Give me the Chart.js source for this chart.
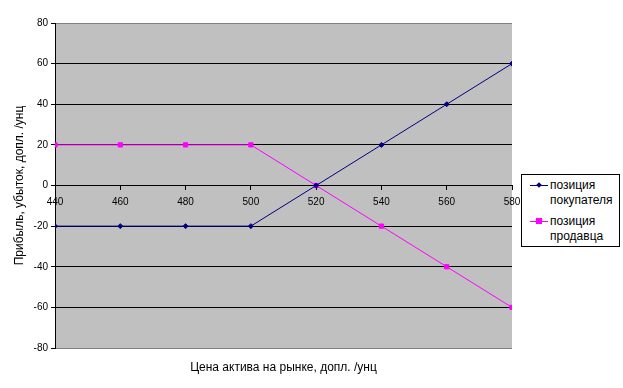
<!DOCTYPE html>
<html>
<head>
<meta charset="utf-8">
<script src="https://cdn.jsdelivr.net/npm/chart.js@4/dist/chart.umd.min.js"></script>
<style>
  body { margin: 0; background: #fff; font-family: "Liberation Sans", Arial, sans-serif; }
  #wrap { position: relative; width: 623px; height: 388px; }
  #legenda { position: absolute; left: 521px; top: 174px; width: 97px; height: 71px;
    border: 1px solid #000; background: #fff; font-size: 12px; color: #000; }
  .item { position: absolute; left: 8px; }
  .amostra { position: absolute; left: 0; width: 18px; height: 1px; }
  .marca { position: absolute; }
  .texto { position: absolute; left: 20px; line-height: 15px; white-space: nowrap; }
</style>
</head>
<body>
<div id="wrap">
  <canvas id="grafico" width="623" height="388"></canvas>
  <div id="legenda">
    <div class="item" style="top:3px">
      <div class="amostra" style="top:7px;background:#000080"></div>
      <div class="marca" style="left:7px;top:5px;width:4px;height:4px;background:#000080;transform:rotate(45deg)"></div>
      <div class="texto" style="top:0">позиция<br>покупателя</div>
    </div>
    <div class="item" style="top:39px">
      <div class="amostra" style="top:7px;background:#ff00ff"></div>
      <div class="marca" style="left:6px;top:4px;width:6px;height:6px;background:#ff00ff"></div>
      <div class="texto" style="top:0">позиция<br>продавца</div>
    </div>
  </div>
</div>
<script>
// dados
const precos = [440, 460, 480, 500, 520, 540, 560, 580];
const comprador = [-20, -20, -20, -20, 0, 20, 40, 60];
const vendedor = [20, 20, 20, 20, 0, -20, -40, -60];
const ticksY = [-80, -60, -40, -20, 0, 20, 40, 60, 80];

//fundo cinza e título do eixo x
const fundoPlugin = {
    id: 'fundo',
    beforeDraw(chart) {
        const a = chart.chartArea;
        const ctx = chart.ctx;
        ctx.save();
        ctx.fillStyle = '#c0c0c0';
        ctx.fillRect(a.left, a.top, a.right - a.left, a.bottom - a.top);
        ctx.restore();
    },
    afterDraw(chart) {
        const a = chart.chartArea;
        const ctx = chart.ctx;
        ctx.save();
        ctx.fillStyle = '#000';
        ctx.font = '12px "Liberation Sans", Arial, sans-serif';
        ctx.textAlign = 'center';
        ctx.textBaseline = 'middle';
        ctx.fillText('Цена актива на рынке, допл. /унц', (a.left + a.right) / 2, 368);
        ctx.restore();
    }
};

const fonte = { family: '"Liberation Sans", Arial, sans-serif', size: 10 };

new Chart(document.getElementById('grafico'), {
    type: 'line',
    data: {
        datasets: [{
            label: 'позиция покупателя',
            data: precos.map((p, i) => ({ x: p, y: comprador[i] })),
            borderColor: '#000080',
            backgroundColor: '#000080',
            borderWidth: 1,
            pointStyle: 'rectRot',
            pointRadius: 2.5,
            tension: 0
        }, {
            label: 'позиция продавца',
            data: precos.map((p, i) => ({ x: p, y: vendedor[i] })),
            borderColor: '#ff00ff',
            backgroundColor: '#ff00ff',
            borderWidth: 1,
            pointStyle: 'rect',
            pointRadius: 3,
            tension: 0
        }]
    },
    options: {
        responsive: false,
        animation: false,
        layout: { padding: { left: 12, top: 23, right: 111, bottom: 40 } },
        plugins: { legend: { display: false }, tooltip: { enabled: false } },
        scales: {
            x: {
                type: 'linear',
                position: { y: 0 },
                min: 440,
                max: 580,
                afterBuildTicks: s => { s.ticks = precos.map(v => ({ value: v })); },
                ticks: { color: '#000', font: fonte, padding: 7, maxRotation: 0 },
                grid: { drawOnChartArea: false, tickLength: 4, color: '#000' },
                border: { color: '#000' }
            },
            y: {
                min: -80,
                max: 80,
                afterBuildTicks: s => { s.ticks = ticksY.map(v => ({ value: v })); },
                afterFit: s => { s.width = 43; },
                ticks: { color: '#000', font: fonte, padding: 3 },
                grid: {
                    tickLength: 4,
                    color: c => (c.tick && Math.abs(c.tick.value) === 80) ? '#808080' : '#000',
                    tickColor: '#000'
                },
                border: { color: '#000' },
                title: {
                    display: true,
                    text: 'Прибыль, убыток, допл. /унц',
                    color: '#000',
                    font: { family: fonte.family, size: 12 },
                    padding: { top: 0, bottom: 4 }
                }
            }
        }
    },
    plugins: [fundoPlugin]
});
</script>
</body>
</html>
